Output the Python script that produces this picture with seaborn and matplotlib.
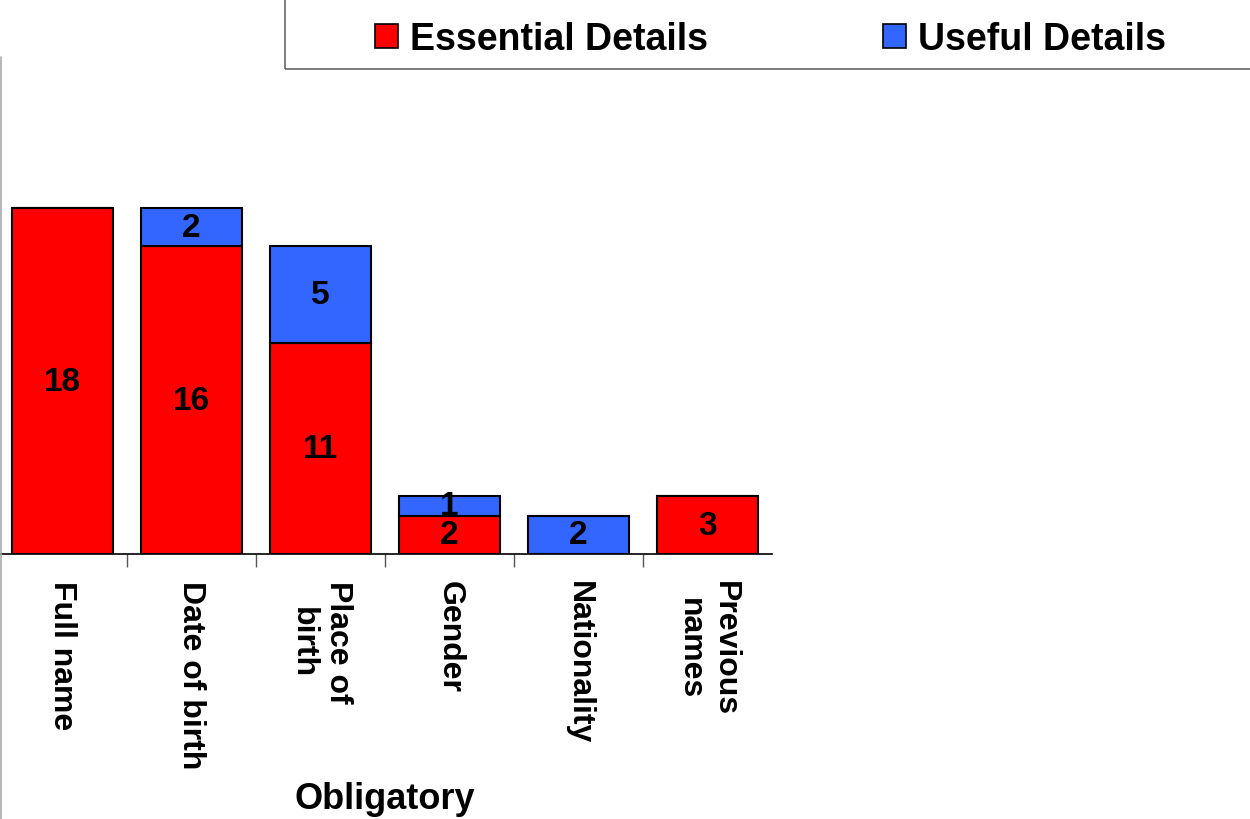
import numpy as np
import seaborn as sns
import matplotlib.pyplot as plt
from matplotlib.patches import Rectangle, Patch
from matplotlib.lines import Line2D

# chart data
categories = ["Full name", "Date of birth", "Place of\nbirth", "Gender", "Nationality", "Previous\nnames"]
essential = [18, 16, 11, 2, 0, 3]
useful = [0, 2, 5, 1, 2, 0]
series_names = ["Essential Details", "Useful Details"]
axis_title = "Obligatory"

red = "#FF0000"
blue = "#3366FF"

sns.set_theme(style="white")
plt.rcParams["font.family"] = ["Liberation Sans", "DejaVu Sans"]
plt.rcParams["font.weight"] = "bold"
plt.rcParams["text.color"] = "black"
plt.rcParams["xtick.color"] = "black"
plt.rcParams["xtick.labelcolor"] = "black"

fig = plt.figure(figsize=(12.5, 8.2), dpi=100)
ax = fig.add_axes([-2 / 1250, 265 / 820, 774 / 1250, 497 / 820])

# stacked bars: essential at the bottom, useful on top
sns.barplot(x=categories, y=essential, color=red, edgecolor="black",
            linewidth=1.5, width=0.78, saturation=1, ax=ax)
sns.barplot(x=categories, y=useful, bottom=essential, color=blue, edgecolor="black",
            linewidth=1.5, width=0.78, saturation=1, ax=ax)

for cont, vals in zip(ax.containers, [essential, useful]):
    ax.bar_label(cont, labels=[str(v) if v else "" for v in vals],
                 label_type="center", fontsize=24, fontweight="bold", color="black")

ax.set_xlim(-0.5, len(categories) - 0.5)
ax.set_ylim(0, 25.86)
ax.set_yticks([])
ax.set_ylabel("")
for s in ["left", "right", "top"]:
    ax.spines[s].set_visible(False)
ax.spines["bottom"].set_color("black")
ax.spines["bottom"].set_linewidth(1.2)

ax.set_xticks(range(len(categories)))
ax.set_xticklabels(categories, rotation=-90, fontsize=23, fontweight="bold",
                   va="top", ha="center", linespacing=1.25, color="black")
ax.set_xticks(np.arange(0.5, len(categories) - 1, 1), minor=True)
ax.tick_params(axis="x", which="major", length=0, pad=19)
ax.tick_params(axis="x", which="minor", length=9, width=1, color="#555555", bottom=True)

fig.text(385 / 1250, 1 - 800 / 820, axis_title, ha="center", va="center",
         fontsize=26, fontweight="bold", color="black")

# plot area border on the left
fig.add_artist(Line2D([1 / 1250, 1 / 1250], [0, 1 - 58 / 820], color="#aaaaaa", lw=1.2))

# legend box
fig.add_artist(Rectangle((285 / 1250, 1 - 70 / 820), 0.9, 0.3, transform=fig.transFigure,
                         fill=False, edgecolor="#666666", lw=1.2))
handles = [Patch(facecolor=red, edgecolor="black", lw=1.2),
           Patch(facecolor=blue, edgecolor="black", lw=1.2)]
leg = fig.legend(handles, series_names, ncol=2, loc="center left",
                 bbox_to_anchor=(375 / 1250, 1 - 40 / 820), frameon=False,
                 borderpad=0, borderaxespad=0, handlelength=0.62,
                 handleheight=0.62, handletextpad=0.32, columnspacing=4.65,
                 prop={"weight": "bold", "size": 27})
for t in leg.get_texts():
    t.set_color("black")

fig.savefig("out.png", dpi=100)
